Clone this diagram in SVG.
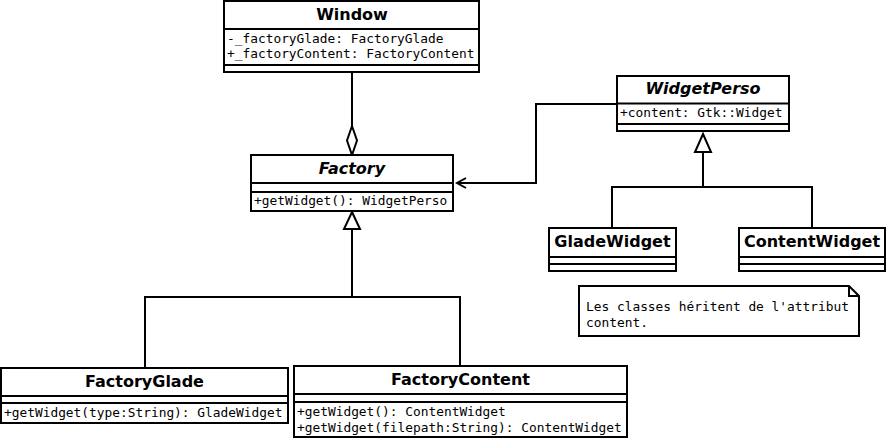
<svg xmlns="http://www.w3.org/2000/svg" width="888" height="441" viewBox="0 0 888 441">
<style>
.box{fill:#fff;stroke:#000;stroke-width:2}
.sep{stroke:#000;stroke-width:2}
.t{font-family:"DejaVu Sans",sans-serif;font-weight:bold;font-size:16px;text-anchor:middle;fill:#000}
.ti{font-style:italic}
.m{font-family:"DejaVu Sans Mono",monospace;font-size:12.85px;fill:#000}
.ln{fill:none;stroke:#000;stroke-width:2}
.tri{fill:#fff;stroke:#000;stroke-width:2}
</style>
<rect width="888" height="441" fill="#fff"/>
<g id="connectors">
<line class="ln" x1="352" y1="72" x2="352" y2="126"/>
<polygon class="tri" points="352,126 357,140.5 352,155 347,140.5"/>
<polyline class="ln" points="617,104 536,104 536,183 457,183"/>
<polyline class="ln" points="466,178 457,183 466,188"/>
<polyline class="ln" points="703,152 703,187 612,187 612,228"/>
<polyline class="ln" points="703,187 812,187 812,228"/>
<polygon class="tri" points="703,134 711,152 695,152"/>
<polyline class="ln" points="352,229 352,297 145,297 145,368"/>
<polyline class="ln" points="352,297 460,297 460,366"/>
<polygon class="tri" points="352,212 360,229 344,229"/>
</g>
<g id="Window">
<rect class="box" x="224" y="1" width="255" height="71"/>
<line class="sep" x1="224" y1="29" x2="479" y2="29"/>
<line class="sep" x1="224" y1="65" x2="479" y2="65"/>
<text class="t" x="352" y="20">Window</text>
<text class="m" x="227" y="43">-_factoryGlade: FactoryGlade</text>
<text class="m" x="227" y="58">+_factoryContent: FactoryContent</text>
</g>
<g id="Factory">
<rect class="box" x="251" y="155" width="202" height="56"/>
<line class="sep" x1="251" y1="183" x2="453" y2="183"/>
<line class="sep" x1="251" y1="192" x2="453" y2="192"/>
<text class="t ti" x="352" y="174">Factory</text>
<text class="m" x="254" y="205">+getWidget(): WidgetPerso</text>
</g>
<g id="WidgetPerso">
<rect class="box" x="617" y="76" width="172" height="55"/>
<line class="sep" x1="617" y1="103.5" x2="789" y2="103.5"/>
<line class="sep" x1="617" y1="124" x2="789" y2="124"/>
<text class="t ti" x="703" y="94">WidgetPerso</text>
<text class="m" x="620" y="117">+content: Gtk::Widget</text>
</g>
<g id="GladeWidget">
<rect class="box" x="549" y="228" width="127" height="43"/>
<line class="sep" x1="549" y1="257" x2="676" y2="257"/>
<line class="sep" x1="549" y1="264" x2="676" y2="264"/>
<text class="t" x="612.5" y="247">GladeWidget</text>
</g>
<g id="ContentWidget">
<rect class="box" x="739" y="228" width="146" height="43"/>
<line class="sep" x1="739" y1="257" x2="885" y2="257"/>
<line class="sep" x1="739" y1="264" x2="885" y2="264"/>
<text class="t" x="812" y="247">ContentWidget</text>
</g>
<g id="Note">
<polygon class="box" points="579,286 849,286 859,296 859,336 579,336"/>
<polyline class="ln" points="849,286 849,296 859,296"/>
<text class="m" x="586" y="311">Les classes héritent de l'attribut</text>
<text class="m" x="586" y="327">content.</text>
</g>
<g id="FactoryGlade">
<rect class="box" x="1" y="368" width="287" height="55"/>
<line class="sep" x1="1" y1="396" x2="288" y2="396"/>
<line class="sep" x1="1" y1="403" x2="288" y2="403"/>
<text class="t" x="144.5" y="387">FactoryGlade</text>
<text class="m" x="4" y="417">+getWidget(type:String): GladeWidget</text>
</g>
<g id="FactoryContent">
<rect class="box" x="294" y="366" width="333" height="71"/>
<line class="sep" x1="294" y1="394" x2="627" y2="394"/>
<line class="sep" x1="294" y1="402" x2="627" y2="402"/>
<text class="t" x="460.5" y="385">FactoryContent</text>
<text class="m" x="297" y="416">+getWidget(): ContentWidget</text>
<text class="m" x="297" y="432">+getWidget(filepath:String): ContentWidget</text>
</g>
</svg>
